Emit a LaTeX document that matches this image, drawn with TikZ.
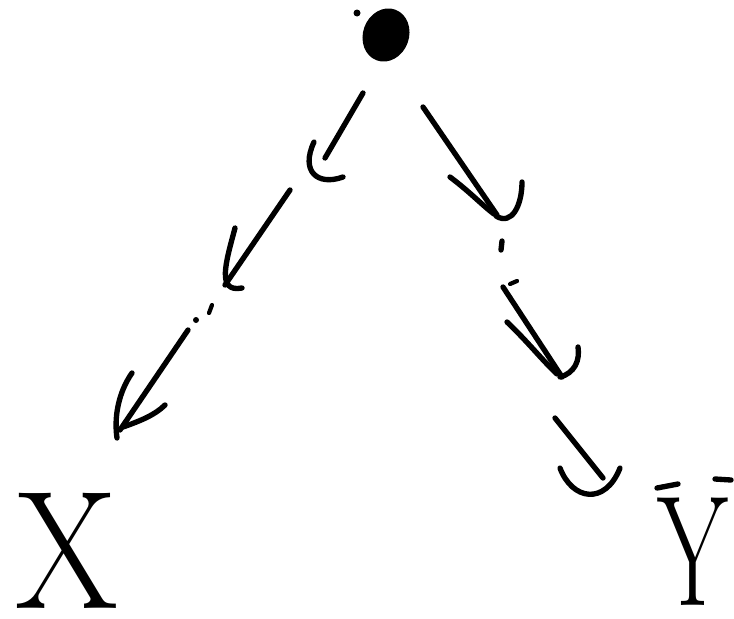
\documentclass[tikz,border=0pt]{standalone}
\usetikzlibrary{shapes.geometric}
\begin{document}
\begin{tikzpicture}[x=0.025cm,y=-0.025cm,
  ink/.style={line width=3.8pt, line cap=round, line join=round},
  thinink/.style={line width=3pt, line cap=round},
  lbl/.style={inner sep=0pt, font=\fontsize{120}{120}\selectfont}]
\useasboundingbox (0,0) rectangle (734,618);
% source blob
\node[ellipse, fill, inner sep=0pt, minimum width=1.15cm, minimum height=1.35cm, rotate=-20] (top) at (386,35) {};
\fill (357,13) circle (3.5);
% labels
\node[lbl] (X) at (67,551) {\scalebox{0.88}[1]{X}};
\node[lbl, font=\fontsize{112}{112}\selectfont] (Y) at (693,552) {\scalebox{0.65}[1]{Y}};
\draw[ink] (657,488) -- (678,484);
\draw[ink] (715,479) -- (731,480);
% left path coordinates
\coordinate (l1a) at (363,93);  \coordinate (l1b) at (325,158);
\coordinate (l2a) at (290,190); \coordinate (l2b) at (225,285);
\coordinate (l3a) at (188,330); \coordinate (l3b) at (120,430);
\draw[ink] (l1a) -- (l1b);
\draw[ink] (314,142) .. controls (300,172) and (318,186) .. (343,177);
\draw[ink] (l2a) -- (l2b);
\draw[ink] (235,228) .. controls (226,262) and (216,293) .. (242,288);
\fill (196,320) circle (3);
\draw[thinink] (212,305) -- (209,313);
\draw[ink] (l3a) -- (l3b);
\draw[ink] (132,373) .. controls (118,393) and (114,418) .. (117,438);
\draw[ink] (123,427) .. controls (140,421) and (155,415) .. (165,405);
% right path coordinates
\coordinate (r1a) at (423,107); \coordinate (r1b) at (497,215);
\coordinate (r2a) at (503,287); \coordinate (r2b) at (562,377);
\coordinate (r3a) at (555,418); \coordinate (r3b) at (603,478);
\draw[ink] (r1a) -- (r1b);
\draw[ink] (450,177) .. controls (470,192) and (482,205) .. (494,214);
\draw[ink] (496,216) .. controls (512,226) and (522,205) .. (522,182);
\draw[ink] (502,241) -- (501,250);
\draw[thinink] (510,284) -- (517,281);
\draw[ink] (r2a) -- (r2b);
\draw[ink] (507,322) .. controls (528,342) and (542,360) .. (557,374);
\draw[ink] (560,377) .. controls (575,373) and (580,360) .. (578,347);
\draw[ink] (r3a) -- (r3b);
\draw[ink] (560,468) .. controls (572,500) and (605,506) .. (620,468);
\end{tikzpicture}
\end{document}
